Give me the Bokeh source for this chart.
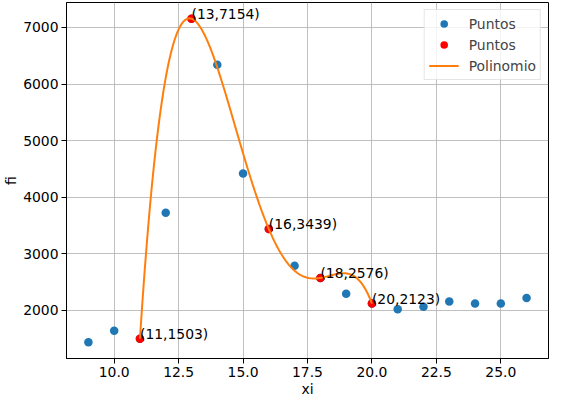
import numpy as np
from bokeh.plotting import figure
from bokeh.models import ColumnDataSource, Range1d, FixedTicker, Legend, LegendItem, NumeralTickFormatter
from bokeh.core.properties import value
from bokeh.embed import file_html
from bokeh.resources import INLINE

# Data
xi_all = [9, 10, 11, 12, 13, 14, 15, 16, 17, 18, 19, 20, 21, 22, 23, 24, 25, 26]
fi_all = [1438, 1642, 1503, 3727, 7154, 6342, 4420, 3439, 2789, 2576, 2295, 2123,
          2022, 2068, 2159, 2124, 2124, 2222]
xi_sel = [11, 13, 16, 18, 20]
fi_sel = [1503, 7154, 3439, 2576, 2123]
x_ticks = [10.0, 12.5, 15.0, 17.5, 20.0, 22.5, 25.0]
y_ticks = [2000, 3000, 4000, 5000, 6000, 7000]

# interpolating polynomial through selected points (Lagrange)
xs = np.linspace(min(xi_sel), max(xi_sel), 300)
ys = np.zeros_like(xs)
for i, (xk, yk) in enumerate(zip(xi_sel, fi_sel)):
    term = np.full_like(xs, float(yk))
    for j, xj in enumerate(xi_sel):
        if j != i:
            term *= (xs - xj) / (xk - xj)
    ys += term

FONT = "DejaVu Sans"
FS = "13.9px"

span_x = max(xi_all) - min(xi_all)
span_y = max(fi_all) - min(fi_all)
p = figure(width=551, height=399, output_backend="svg", toolbar_location=None,
           x_range=Range1d(min(xi_all) - 0.05 * span_x, max(xi_all) + 0.05 * span_x),
           y_range=Range1d(min(fi_all) - 0.05 * span_y, max(fi_all) + 0.05 * span_y),
           min_border_left=10, min_border_right=3, min_border_top=2, min_border_bottom=10)
p.background_fill_color = "white"
p.border_fill_color = "white"
p.outline_line_color = "black"
p.outline_line_width = 1

for ax in (p.xaxis[0], p.yaxis[0]):
    ax.axis_line_color = "black"
    ax.major_tick_line_color = "black"
    ax.major_tick_out = 5
    ax.major_tick_in = 0
    ax.minor_tick_line_color = None
    ax.major_label_text_font = FONT
    ax.major_label_text_font_size = FS
    ax.major_label_text_color = "black"
    ax.axis_label_text_font = FONT
    ax.axis_label_text_font_size = FS
    ax.axis_label_text_font_style = "normal"
    ax.axis_label_text_color = "black"
    ax.axis_label_standoff = 1
    ax.major_label_standoff = 3

p.xaxis.ticker = FixedTicker(ticks=x_ticks)
p.xaxis.formatter = NumeralTickFormatter(format="0.0")
p.yaxis.ticker = FixedTicker(ticks=y_ticks)
p.xaxis.axis_label = "xi"
p.yaxis.axis_label = "fi"

p.grid.grid_line_color = "#b0b0b0"
p.grid.grid_line_width = 0.8

r_all = p.scatter(xi_all, fi_all, size=8.5, color="#1f77b4", line_color=None)
r_sel = p.scatter(xi_sel, fi_sel, size=8.5, color="red", line_color=None)
r_poly = p.line(xs, ys, line_color="#ff7f0e", line_width=2)

labels = [f"({x},{y})" for x, y in zip(xi_sel, fi_sel)]
src = ColumnDataSource(dict(x=xi_sel, y=fi_sel, t=labels))
p.text(x="x", y="y", text="t", source=src, text_font=value(FONT), text_font_size=FS,
       text_color="black", text_align="left", text_baseline="alphabetic", y_offset=-5)

legend = Legend(items=[LegendItem(label="Puntos", renderers=[r_all]),
                       LegendItem(label="Puntos", renderers=[r_sel]),
                       LegendItem(label="Polinomio", renderers=[r_poly])],
                location="top_right")
legend.label_text_font = FONT
legend.label_text_font_size = FS
legend.border_line_color = "#cccccc"
legend.background_fill_alpha = 0.8
legend.margin = 7
legend.padding = 4
legend.spacing = 2
legend.glyph_width = 30
legend.glyph_height = 19
legend.label_standoff = 10
legend.label_height = 19
p.add_layout(legend)

open("out.html", "w").write(file_html(p, INLINE))
